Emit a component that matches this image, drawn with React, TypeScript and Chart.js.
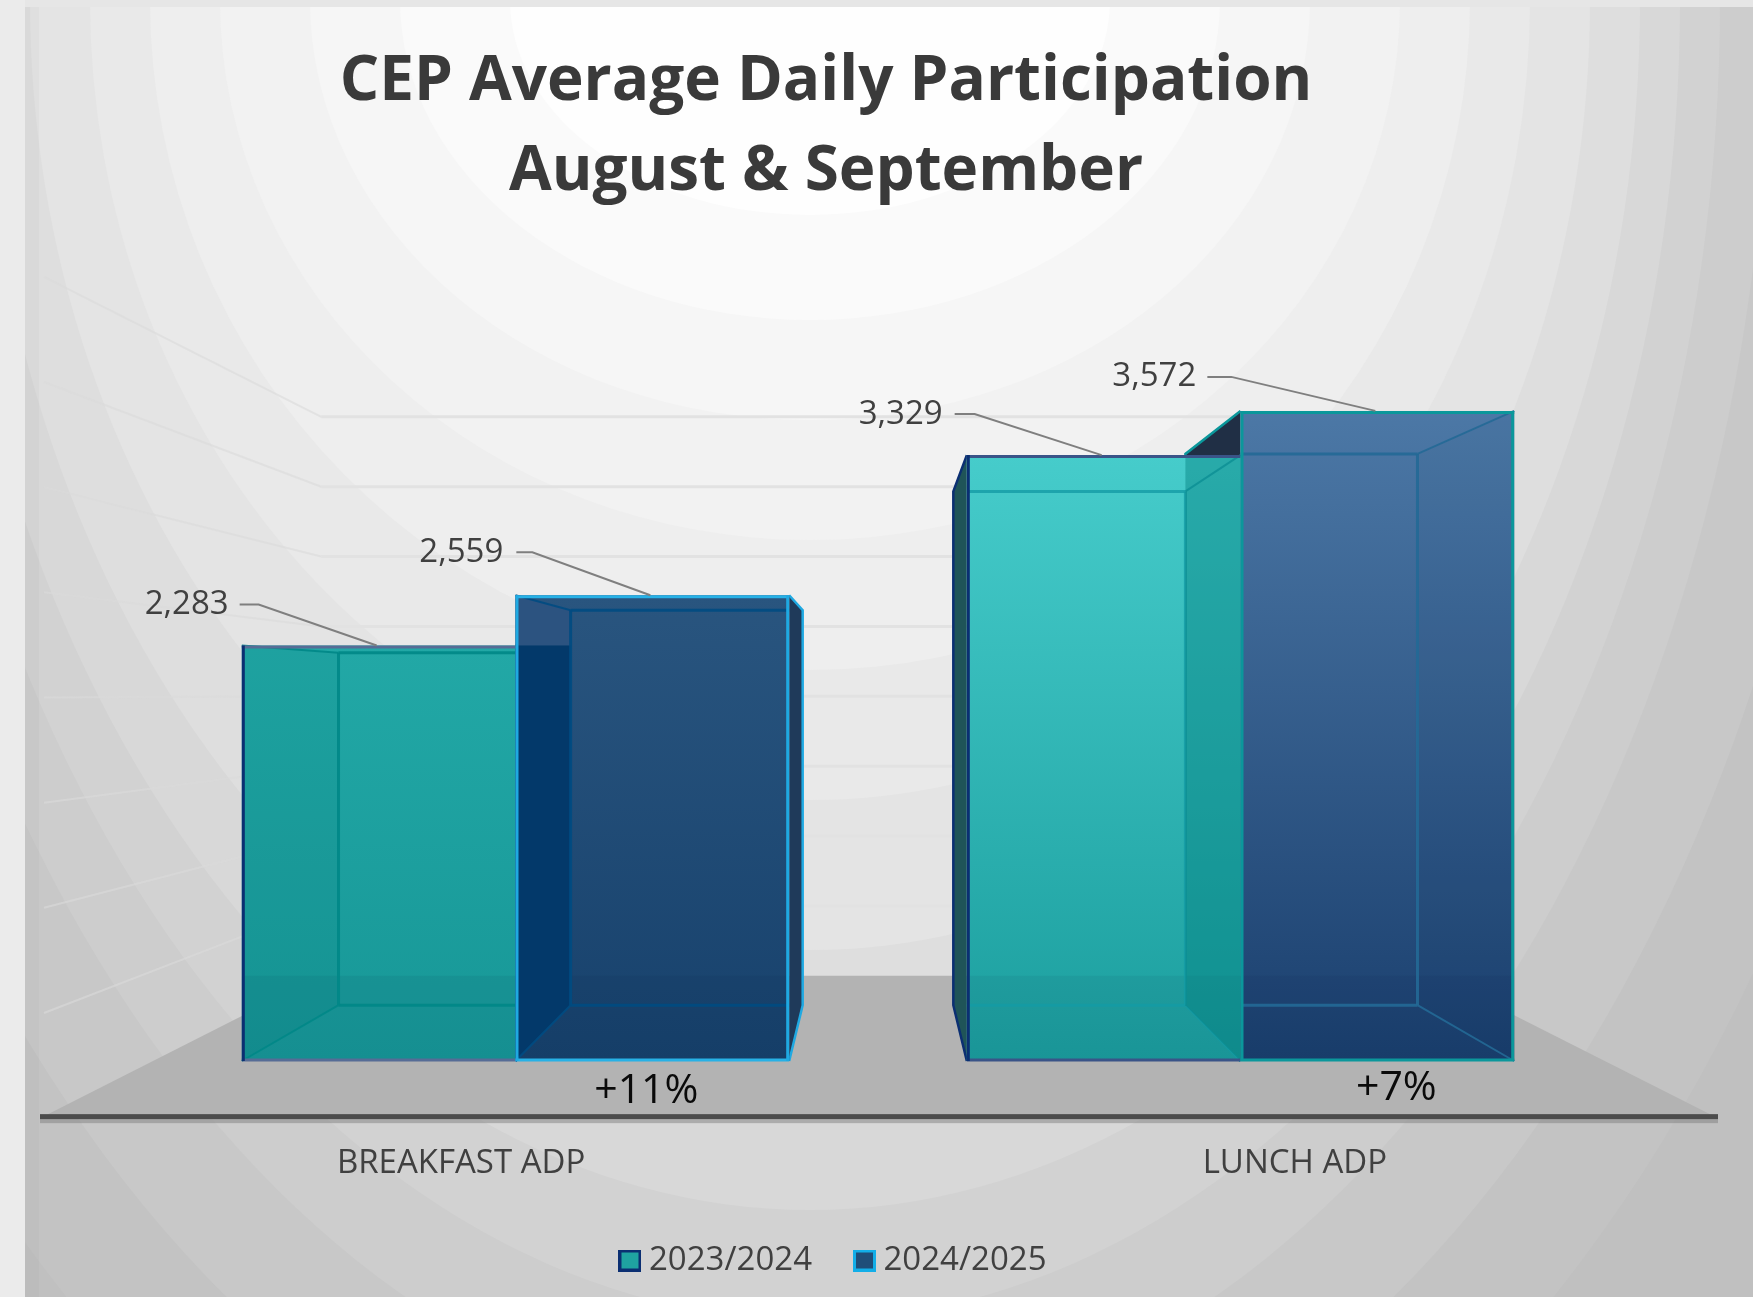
import React, { useEffect, useRef } from "react";
import { Chart, registerables } from "chart.js";

Chart.register(...registerables);

const categories = ["BREAKFAST ADP", "LUNCH ADP"];
const seriesNames = ["2023/2024", "2024/2025"];
const values2023 = [2283, 3329];
const values2024 = [2559, 3572];
const changeLabels = ["+11%", "+7%"];
const titleLines = ["CEP Average Daily Participation", "August & September"];

const W = 1753;
const H = 1297;
const FONT = "'Open Sans', 'Noto Sans', sans-serif";
// 3D look: vanishing point and depths relative to the plane of the bars' front faces
const VP = { x: 878, y: 694 };
const BOX_DEPTH = 0.152;
const WALL_FACTOR = 0.7678;
const FRONT_FACTOR = 1.1557;

// Backdrop: concentric ellipses hanging from the top edge, outermost first
const BACKDROP_CENTER_X = 810;
const BACKDROP_BASE = 192;
const bandRx = [1150, 1050, 960, 910, 870, 830, 780, 720, 660, 590, 500, 410, 300];
const bandRy = [1700, 1560, 1430, 1320, 1210, 1090, 950, 800, 670, 540, 420, 320, 215];
const bandGrays = [195, 200, 205, 210, 216, 222, 228, 233, 238, 242, 246, 250, 254];

const styles2023 = [
  { top: "#22a8a6", bottom: "#179797", border: "#0b2f72", cap: "#566c96", edge: "rgba(0,135,135,0.9)", leftIn: "rgba(0,110,110,0.10)", rightIn: "", outside: "#1f5458" },
  { top: "#46cccb", bottom: "#1b9e9e", border: "#0b2f72", cap: "#3a5488", edge: "rgba(20,155,165,0.8)", leftIn: "", rightIn: "", outside: "#1f5458" },
];
const styles2024 = [
  { top: "#29557f", bottom: "#17416c", border: "#1fa9e2", cap: "#27b1e6", edge: "rgba(0,75,130,0.9)", leftIn: "#03396a", leftUp: "#2c5380", rightIn: "", outside: "#1f3a5a" },
  { top: "#4c78a6", bottom: "#1a3f6e", border: "#0b979b", cap: "#0b979b", edge: "rgba(35,105,150,0.9)", leftIn: "rgba(0,125,125,0.42)", leftUp: "", rightIn: "rgba(20,50,90,0.05)", outside: "#202f45" },
];
const leaderOffsets = [
  [{ dx: -118, dy: -41, run: 19, gap: 11 }, { dx: -118, dy: -43, run: 16, gap: 13 }],
  [{ dx: -127, dy: -41, run: 20, gap: 12 }, { dx: -144, dy: -34, run: 24, gap: 11 }],
];
const changeOffsets = [{ dx: -6, dy: 30 }, { dx: 19, dy: 27 }];
const legendSwatches = [
  { fill: "#1fa3a1", stroke: "#0b2f72" },
  { fill: "#1f4e79", stroke: "#12aee8" },
];

const makeSwatch = (s: { fill: string; stroke: string }) => {
  const cv = document.createElement("canvas");
  cv.width = 23;
  cv.height = 22;
  const c = cv.getContext("2d")!;
  c.fillStyle = s.stroke;
  c.fillRect(0, 0, 23, 22);
  c.fillStyle = s.fill;
  c.fillRect(3, 3, 17, 16);
  return cv;
};

const barGradient = (ctx: any, pal: any[]) => {
  const { chart, dataIndex, parsed } = ctx;
  const s = pal[dataIndex];
  if (!chart.chartArea || !parsed) return s.top;
  const yS = chart.scales.y;
  const g = chart.ctx.createLinearGradient(0, yS.getPixelForValue(parsed.y), 0, yS.getPixelForValue(0));
  g.addColorStop(0, s.top);
  g.addColorStop(1, s.bottom);
  return g;
};

const poly = (c: CanvasRenderingContext2D, pts: number[][], fill?: string, stroke?: string, lw = 1) => {
  c.beginPath();
  pts.forEach((p, i) => (i ? c.lineTo(p[0], p[1]) : c.moveTo(p[0], p[1])));
  if (fill) {
    c.closePath();
    c.fillStyle = fill;
    c.fill();
  }
  if (stroke) {
    c.strokeStyle = stroke;
    c.lineWidth = lw;
    c.stroke();
  }
};

const toPlane = (x: number, y: number, f: number) => [VP.x + (x - VP.x) * f, VP.y + (y - VP.y) * f];
const boxGeom = (el: any) => {
  const L = el.x - el.width / 2;
  const R = el.x + el.width / 2;
  const T = el.y;
  const B = el.base;
  const f = 1 - BOX_DEPTH;
  return { L, R, T, B, tl: toPlane(L, T, f), tr: toPlane(R, T, f), bl: toPlane(L, B, f), br: toPlane(R, B, f) };
};

const scene = {
  id: "scene",
  afterLayout(chart: any) {
    chart.titleBlock.left = 0;
    chart.titleBlock.right = 1652;
    chart.legend.left = 0;
    chart.legend.right = 1674;
    chart.legend.top = 1194;
  },
  beforeDraw(chart: any) {
    const c = chart.ctx;
    const yS = chart.scales.y;
    c.save();
    c.fillStyle = `rgb(${BACKDROP_BASE},${BACKDROP_BASE},${BACKDROP_BASE})`;
    c.fillRect(0, 0, W, H);
    bandGrays.forEach((v, i) => {
      c.beginPath();
      c.ellipse(BACKDROP_CENTER_X, 0, bandRx[i], bandRy[i], 0, 0, Math.PI * 2);
      c.fillStyle = `rgb(${v},${v},${v})`;
      c.fill();
    });
    c.fillStyle = "rgba(0,0,0,0.02)";
    c.fillRect(25, 7, 14, H);
    c.fillStyle = "#e6e6e6";
    c.fillRect(0, 0, W, 7);
    c.fillStyle = "#ebebeb";
    c.fillRect(0, 0, 25, H);

    const zero = yS.getPixelForValue(0);
    const frontBase = toPlane(40, zero, FRONT_FACTOR)[1];
    const frontL = 40;
    const frontR = 1718;
    const backL = VP.x + (frontL - VP.x) * (WALL_FACTOR / FRONT_FACTOR);
    const backR = VP.x + (frontR - VP.x) * (WALL_FACTOR / FRONT_FACTOR);
    const backBase = toPlane(40, zero, WALL_FACTOR)[1];

    yS.ticks.forEach((t: any) => {
      if (t.value === 0) return;
      const py = yS.getPixelForValue(t.value);
      const by = toPlane(0, py, WALL_FACTOR)[1];
      const fy = toPlane(0, py, FRONT_FACTOR)[1];
      poly(c, [[frontL + 4, fy], [backL, by]], undefined, "rgba(219,219,219,0.6)", 2);
      poly(c, [[backL, by], [backR, by]], undefined, "#e2e2e2", 3);
    });
    poly(c, [[frontL, frontBase], [backL, backBase], [backR, backBase], [frontR, frontBase]], "#b3b3b3");
    c.fillStyle = "rgba(120,120,120,0.45)";
    c.fillRect(frontL, frontBase + 1, frontR - frontL, 4);
    c.fillStyle = "#4c4c4c";
    c.fillRect(frontL, frontBase - 4, frontR - frontL, 5);
    c.restore();
  },
  beforeDatasetsDraw(chart: any) {
    const c = chart.ctx;
    c.save();
    [styles2023, styles2024].forEach((pal, d) => {
      chart.getDatasetMeta(d).data.forEach((el: any, i: number) => {
        const g = boxGeom(el);
        const s: any = pal[i];
        if (g.tl[0] < g.L) {
          poly(c, [[g.L, g.T], g.tl, g.bl, [g.L, g.B]], s.outside);
          poly(c, [[g.L, g.T], g.tl, g.bl, [g.L, g.B]], undefined, s.border, 2.5);
        }
        if (g.tr[0] > g.R) {
          poly(c, [[g.R, g.T], g.tr, g.br, [g.R, g.B]], s.outside);
          poly(c, [[g.R, g.T], g.tr, g.br, [g.R, g.B]], undefined, s.border, 2.5);
        }
      });
    });
    c.restore();
  },
  afterDatasetsDraw(chart: any) {
    const c = chart.ctx;
    const yS = chart.scales.y;
    const backBase = toPlane(0, yS.getPixelForValue(0), WALL_FACTOR)[1];
    c.save();
    [styles2023, styles2024].forEach((pal, d) => {
      chart.getDatasetMeta(d).data.forEach((el: any, i: number) => {
        const g = boxGeom(el);
        const s: any = pal[i];
        c.fillStyle = "rgba(0,20,50,0.06)";
        c.fillRect(g.L, backBase, g.R - g.L, g.B - backBase);
        // side panels seen through the front face
        if (g.tl[0] > g.L && s.leftIn) {
          const up = d === 1 ? chart.getDatasetMeta(0).data[i].y : g.T;
          if (d === 1 && s.leftUp) poly(c, [[g.L, g.T], g.tl, [g.tl[0], up], [g.L, up]], s.leftUp);
          const topAt = Math.max(up, g.tl[1]);
          poly(c, [[g.L, up], [g.tl[0], topAt], g.bl, [g.L, g.B]], s.leftIn);
        }
        if (g.tr[0] < g.R && s.rightIn) poly(c, [[g.R, g.T], g.tr, g.br, [g.R, g.B]], s.rightIn);
        if (d === 1 && g.tl[0] < g.L && s.leftIn) {
          const up = chart.getDatasetMeta(0).data[i].y;
          poly(c, [[g.tl[0], up], [g.L, up], [g.L, g.B], g.bl], s.leftIn);
        }
        // inner edges of the box, kept inside the front face
        const xa = Math.max(g.tl[0], g.L);
        const xb = Math.min(g.tr[0], g.R);
        poly(c, [[xa, g.tl[1]], [xb, g.tl[1]]], undefined, s.edge, 3);
        poly(c, [[xa, g.bl[1]], [xb, g.bl[1]]], undefined, s.edge, 3);
        if (g.tl[0] > g.L) {
          poly(c, [g.tl, g.bl], undefined, s.edge, 3);
          poly(c, [[g.L, g.T], g.tl], undefined, s.edge, 2);
          poly(c, [[g.L, g.B], g.bl], undefined, s.edge, 2);
        }
        if (g.tr[0] < g.R) {
          poly(c, [g.tr, g.br], undefined, s.edge, 3);
          poly(c, [[g.R, g.T], g.tr], undefined, s.edge, 2);
          poly(c, [[g.R, g.B], g.br], undefined, s.edge, 2);
        }
      });
    });
    // front outlines on top
    [styles2023, styles2024].forEach((pal, d) => {
      chart.getDatasetMeta(d).data.forEach((el: any, i: number) => {
        const g = boxGeom(el);
        const s: any = pal[i];
        poly(c, [[g.L, g.T + 1.5], [g.R, g.T + 1.5]], undefined, s.cap, 3);
        poly(c, [[g.L, g.B - 1], [g.R, g.B - 1]], undefined, s.cap, 3);
        poly(c, [[g.L + 1.5, g.T], [g.L + 1.5, g.B]], undefined, s.border, 3);
        if (d === 1) poly(c, [[g.R - 1.5, g.T], [g.R - 1.5, g.B]], undefined, s.border, 3);
      });
    });
    // leaders, value labels and change notes
    c.textBaseline = "middle";
    [values2023, values2024].forEach((vals, d) => {
      chart.getDatasetMeta(d).data.forEach((el: any, i: number) => {
        const o = leaderOffsets[i][d];
        const ex = el.x - 2;
        const ey = el.y;
        const mx = ex + o.dx;
        const my = ey + o.dy;
        poly(c, [[ex, ey], [mx, my], [mx - o.run, my]], undefined, "#7f7f7f", 2);
        c.font = `33px ${FONT}`;
        c.fillStyle = "#404040";
        c.textAlign = "right";
        c.fillText(vals[i].toLocaleString("en-US"), mx - o.run - o.gap, my);
      });
    });
    chart.getDatasetMeta(1).data.forEach((el: any, i: number) => {
      c.font = `41px ${FONT}`;
      c.fillStyle = "#0a0a0a";
      c.textAlign = "center";
      c.fillText(changeLabels[i], el.x + changeOffsets[i].dx, el.base + changeOffsets[i].dy);
    });
    c.restore();
  },
};

export default function App() {
  const ref = useRef<HTMLCanvasElement>(null);
  useEffect(() => {
    if (!ref.current) return;
    const swatches = legendSwatches.map(makeSwatch);
    const chart = new Chart(ref.current, {
      type: "bar",
      data: {
        labels: categories,
        datasets: [
          { label: seriesNames[0], data: values2023, xAxisID: "x", yAxisID: "y", backgroundColor: (ctx: any) => barGradient(ctx, styles2023), barPercentage: 1, categoryPercentage: 0.755 },
          { label: seriesNames[1], data: values2024, xAxisID: "x", yAxisID: "y", backgroundColor: (ctx: any) => barGradient(ctx, styles2024), barPercentage: 1, categoryPercentage: 0.755 },
        ],
      },
      options: {
        responsive: false,
        animation: false,
        layout: { padding: { left: 153, right: 150, top: 0, bottom: 0 } },
        scales: {
          x: { display: false },
          xLabels: {
            type: "linear",
            axis: "x",
            position: "bottom",
            offset: false,
            min: 0,
            max: 1,
            grid: { display: false, drawTicks: false },
            border: { display: false },
            afterBuildTicks: (s: any) => {
              s.ticks = categories.map((_, i) => ({ value: 0.5 + ((i + 0.5) / categories.length - 0.5) * 1.15 }));
            },
            afterFit: (s: any) => {
              s.height = 143;
            },
            ticks: {
              autoSkip: false,
              maxRotation: 0,
              padding: 83,
              color: "#404040",
              font: { family: FONT, size: 33 },
              callback: (_v: any, i: number) => categories[i],
            },
          },
          y: { display: false, min: 0, max: 4000, ticks: { stepSize: 500 } },
        },
        plugins: {
          title: {
            display: true,
            text: titleLines,
            color: "#3a3a3a",
            padding: { top: 37, bottom: 116 },
            font: { family: FONT, size: 62, weight: "bold", lineHeight: 90 / 62 },
          },
          legend: {
            display: true,
            position: "bottom",
            labels: {
              usePointStyle: true,
              pointStyleWidth: 5,
              padding: 50,
              color: "#404040",
              font: { family: FONT, size: 33 },
              generateLabels: () =>
                seriesNames.map((text, i) => ({
                  text,
                  fontColor: "#404040",
                  fillStyle: legendSwatches[i].fill,
                  strokeStyle: legendSwatches[i].stroke,
                  pointStyle: swatches[i],
                  lineWidth: 0,
                  datasetIndex: i,
                })),
            },
          },
          tooltip: { enabled: false },
        },
      } as any,
      plugins: [scene],
    });
    return () => chart.destroy();
  }, []);
  return (
    <div style={{ position: "absolute", left: 0, top: 0, width: W, height: H, overflow: "hidden" }}>
      <canvas ref={ref} width={W} height={H} style={{ display: "block", filter: "blur(0.5px)" }} />
    </div>
  );
}
